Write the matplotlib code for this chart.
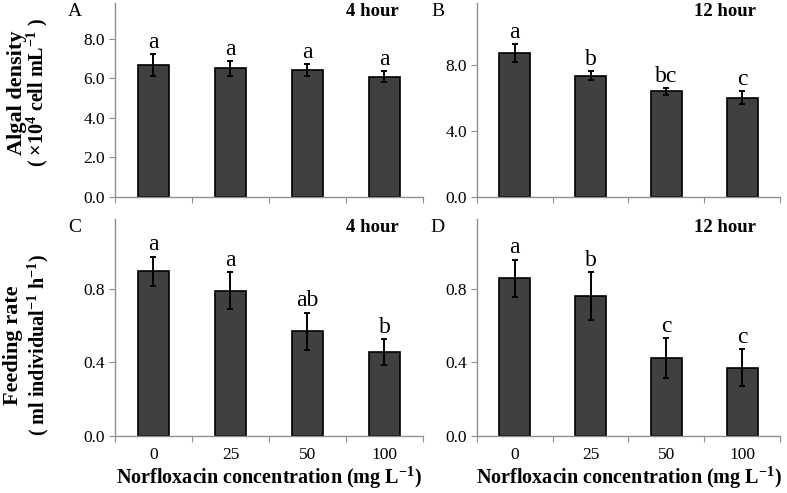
import numpy as np
import matplotlib
matplotlib.use("Agg")
import matplotlib.pyplot as plt

plt.rcParams['font.family'] = ['Liberation Serif', 'DejaVu Serif']
plt.rcParams['mathtext.fontset'] = 'custom'
plt.rcParams['mathtext.rm'] = 'Liberation Serif'
plt.rcParams['mathtext.bf'] = 'Liberation Serif:bold'
plt.rcParams['mathtext.it'] = 'Liberation Serif:italic'
plt.rcParams['mathtext.default'] = 'bf'

# data
conc = ['0', '25', '50', '100']

algae_4h = [6.65, 6.5, 6.42, 6.08]
algae_4h_err = [0.55, 0.37, 0.3, 0.27]
algae_4h_let = ['a', 'a', 'a', 'a']

algae_12h = [8.76, 7.38, 6.42, 6.05]
algae_12h_err = [0.55, 0.26, 0.2, 0.4]
algae_12h_let = ['a', 'b', 'bc', 'c']

feed_4h = [0.895, 0.79, 0.57, 0.456]
feed_4h_err = [0.08, 0.1, 0.1, 0.07]
feed_4h_let = ['a', 'a', 'ab', 'b']

feed_12h = [0.858, 0.762, 0.423, 0.371]
feed_12h_err = [0.1, 0.13, 0.11, 0.1]
feed_12h_let = ['a', 'b', 'c', 'c']

fig = plt.figure(figsize=(7.87, 4.93), dpi=100)

axA = fig.add_axes([0.146, 0.6004, 0.3915, 0.3936])
axB = fig.add_axes([0.606, 0.6004, 0.385, 0.3936])
axC = fig.add_axes([0.146, 0.1156, 0.3915, 0.4402])
axD = fig.add_axes([0.606, 0.1156, 0.385, 0.4402])

panels = [
    (axA, algae_4h, algae_4h_err, algae_4h_let, 9.8, [0, 2, 4, 6, 8], 'A', '4 hour'),
    (axB, algae_12h, algae_12h_err, algae_12h_let, 11.8, [0, 4, 8], 'B', '12 hour'),
    (axC, feed_4h, feed_4h_err, feed_4h_let, 1.18, [0, 0.4, 0.8], 'C', '4 hour'),
    (axD, feed_12h, feed_12h_err, feed_12h_let, 1.18, [0, 0.4, 0.8], 'D', '12 hour'),
]

x = np.arange(len(conc))
for ax, vals, errs, lets, ytop, yt, tag, hour in panels:
    ax.bar(x, vals, width=0.41, color='#404040', edgecolor='black', linewidth=1.2, zorder=2)
    ax.errorbar(x, vals, yerr=errs, fmt='none', ecolor='black', elinewidth=1.4,
                capsize=2.5, capthick=1.4, zorder=3)
    # significance letters above the error bars
    for xi, v, e, l in zip(x, vals, errs, lets):
        ax.annotate(l, (xi, v + e), xytext=(0, 1), textcoords='offset points',
                    ha='center', va='bottom', fontsize=17)
    ax.set_xlim(-0.5, 3.5)
    ax.set_ylim(0, ytop)
    ax.set_yticks(yt)
    ax.set_yticklabels(['{:.1f}'.format(t) for t in yt], fontsize=12.5)
    # ticks between categories, labels at category centres
    ax.set_xticks(np.arange(-0.5, 4.0, 1.0))
    ax.set_xticklabels([])
    ax.set_xticks(x, minor=True)
    ax.tick_params(axis='x', which='major', length=4, color='#909090', direction='out')
    ax.tick_params(axis='x', which='minor', length=0, pad=8, labelsize=12.5)
    ax.tick_params(axis='y', length=4, color='#909090', direction='out', pad=3)
    for s in ['top', 'right']:
        ax.spines[s].set_visible(False)
    for s in ['left', 'bottom']:
        ax.spines[s].set_color('#909090')
        ax.spines[s].set_linewidth(1.0)
    ax.text(-0.13, 1.0, tag, transform=ax.transAxes, fontsize=14, ha='center', va='top')
    ax.text(0.92, 1.0, hour, transform=ax.transAxes, fontsize=13.5, fontweight='bold',
            ha='right', va='top')

for ax in (axC, axD):
    ax.set_xticklabels(conc, minor=True)
    ax.set_xlabel('Norfloxacin concentration (mg L$^{-1}$)', fontsize=14.5,
                  fontweight='bold', labelpad=1)

fig.text(0.021, 0.812, 'Algal density', rotation=90, fontsize=16, fontweight='bold',
         ha='center', va='center')
fig.text(0.048, 0.812, '( ×10$^{4}$ cell mL$^{-1}$ )', rotation=90, fontsize=14.5,
         fontweight='bold', ha='center', va='center')
fig.text(0.017, 0.30, 'Feeding rate', rotation=90, fontsize=16, fontweight='bold',
         ha='center', va='center')
fig.text(0.049, 0.30, '( ml individual$^{-1}$ h$^{-1}$)', rotation=90, fontsize=14.5,
         fontweight='bold', ha='center', va='center')

fig.savefig('out.png', dpi=100)
